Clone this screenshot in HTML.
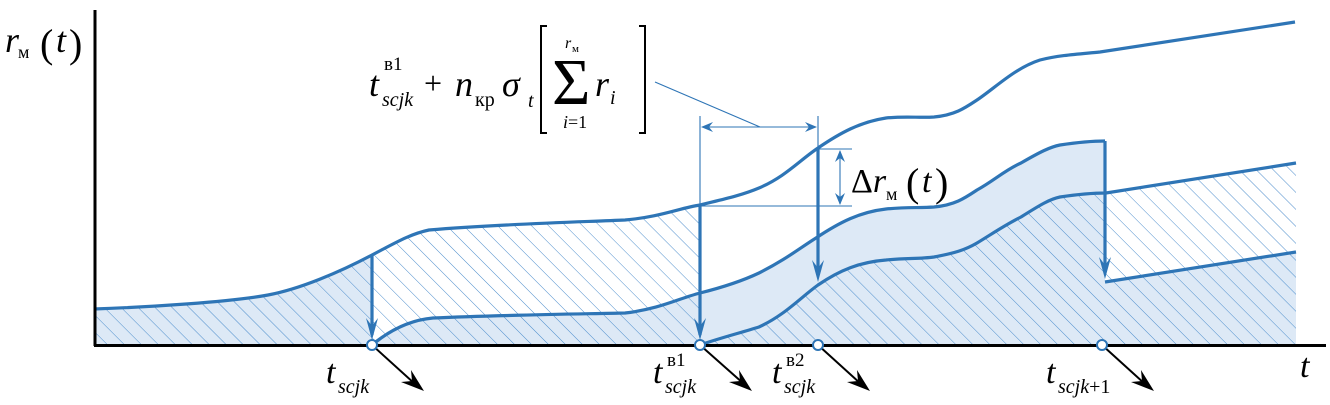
<!DOCTYPE html>
<html><head><meta charset="utf-8"><style>
html,body{margin:0;padding:0;background:#fff;}
svg{display:block;}
svg text{font-family:'Liberation Serif','DejaVu Serif','Times New Roman',serif !important;}
</style></head><body>
<svg width="1330" height="405" viewBox="0 0 1330 405" xmlns="http://www.w3.org/2000/svg">
<defs>
<pattern id="h" patternUnits="userSpaceOnUse" width="12" height="12" patternTransform="rotate(-45)">
<line x1="0" y1="0" x2="0" y2="12" stroke="#3b82c8" stroke-width="0.9"/>
</pattern>
</defs>

<path d="M94,309 C150,307 230,302 268,295 C300,289 340,272 372,255 L372,345 L94,345 Z" fill="#dde9f6"/>
<path d="M372,345 C390,330 410,320 433,318 C500,315 580,314 625,313 C660,309 680,298 700,293 C720,288 740,282 759,273 C785,260 800,248 816,238 C840,222 860,212 886,209 C905,207 920,208 934,207 C955,205 965,198 977,190 C995,180 1005,170 1021,163 C1040,152 1050,147 1060,145 C1080,142 1095,141 1105,141 L1105,282 L1296,252 L1296,345 Z" fill="#dde9f6"/>

<path d="M94,309 C150,307 230,302 268,295 C300,289 340,272 372,255 C395,243 410,234 429,230 C500,224 580,222 625,220 C660,217 680,208 700,205 L700,345 L94,345 Z" fill="url(#h)"/>
<path d="M700,345 C720,338 740,333 759,327 C785,315 800,298 818,285 C840,270 860,262 886,260 C905,258 920,259 934,257 C955,253 965,250 977,243 C995,232 1005,225 1021,217 C1040,205 1050,199 1060,197 C1080,194 1095,193 1106,193 L1296,163 L1296,345 Z" fill="url(#h)"/>

<g fill="none" stroke="#2e75b6" stroke-width="3.2">
<path d="M94,309 C150,307 230,302 268,295 C300,289 340,272 372,255 C395,243 410,234 429,230 C500,224 580,222 625,220 C660,217 680,208 700,205 C720,200 740,196 759,188 C785,177 800,160 818,148 C840,133 860,122 886,118 C905,116 920,118 934,117 C955,115 965,108 977,100 C995,88 1015,68 1040,60 C1060,55 1080,54 1100,52 L1295,22"/>
<path d="M372,345 C390,330 410,320 433,318 C500,315 580,314 625,313 C660,309 680,298 700,293 C720,288 740,282 759,273 C785,260 800,248 816,238 C840,222 860,212 886,209 C905,207 920,208 934,207 C955,205 965,198 977,190 C995,180 1005,170 1021,163 C1040,152 1050,147 1060,145 C1080,142 1095,141 1105,141"/>
<path d="M700,345 C720,338 740,333 759,327 C785,315 800,298 818,285 C840,270 860,262 886,260 C905,258 920,259 934,257 C955,253 965,250 977,243 C995,232 1005,225 1021,217 C1040,205 1050,199 1060,197 C1080,194 1095,193 1106,193 L1296,163"/>
<path d="M1105,282 L1296,252"/>
</g>
<g stroke="#2e75b6" stroke-width="3.2">
<line x1="372" y1="255" x2="372" y2="335"/>
<line x1="700" y1="205" x2="700" y2="335"/>
<line x1="818" y1="148" x2="818" y2="275"/>
<line x1="1105" y1="141" x2="1105" y2="272"/>
</g>
<g fill="#2e75b6">
<path d="M366,318 L372,340 L378,318 L372,326 Z"/>
<path d="M694,318 L700,340 L706,318 L700,326 Z"/>
<path d="M812,260 L818,282 L824,260 L818,268 Z"/>
<path d="M1099,257 L1105,279 L1111,257 L1105,265 Z"/>
</g>
<g stroke="#2e75b6" stroke-width="1.1" fill="none">
<line x1="700" y1="116" x2="700" y2="205"/>
<line x1="818" y1="116" x2="818" y2="148"/>
<line x1="702" y1="127" x2="816" y2="127"/>
<line x1="655" y1="82" x2="760" y2="127"/>
<line x1="700" y1="206" x2="852" y2="206"/>
<line x1="818" y1="149" x2="852" y2="149"/>
<line x1="840" y1="151" x2="840" y2="204"/>
</g>
<g fill="#2e75b6">
<path d="M701,127 L713,122 L709,127 L713,132 Z"/>
<path d="M817,127 L805,122 L809,127 L805,132 Z"/>
<path d="M840,150 L835,162 L840,158 L845,162 Z"/>
<path d="M840,205 L835,193 L840,197 L845,193 Z"/>
</g>

<line x1="95" y1="10" x2="95" y2="346" stroke="#000" stroke-width="3"/>
<line x1="94" y1="345.5" x2="1326" y2="345.5" stroke="#000" stroke-width="3"/>

<g stroke="#000" stroke-width="2">
<line x1="372" y1="345" x2="415" y2="384"/>
<line x1="700" y1="345" x2="744" y2="384"/>
<line x1="818" y1="345" x2="861" y2="384"/>
<line x1="1102" y1="345" x2="1145" y2="384"/>
</g>
<g fill="#000">
<path d="M424,391 L401,382 L412,381 L411,370 Z"/>
<path d="M752,391 L729,382 L740,381 L739,370 Z"/>
<path d="M870,391 L847,382 L858,381 L857,370 Z"/>
<path d="M1154,391 L1131,382 L1142,381 L1141,370 Z"/>
</g>
<g fill="#fff" stroke="#2e75b6" stroke-width="2">
<circle cx="372" cy="345" r="5"/>
<circle cx="700" cy="345" r="5"/>
<circle cx="818" cy="345" r="5"/>
<circle cx="1102" cy="345" r="5"/>
</g>

<g fill="#000" style="font-family:'Liberation Serif',serif">
<text x="5" y="52" font-size="36" font-style="italic">r</text>
<text x="18" y="58" font-size="18">м</text>
<text x="40" y="57" font-size="40">(</text>
<text x="56" y="52" font-size="36" font-style="italic">t</text>
<text x="69" y="57" font-size="40">)</text>
<text x="1300" y="377" font-size="34" font-style="italic">t</text>

<text x="326" y="383" font-size="34" font-style="italic">t</text>
<text x="338" y="393" font-size="20" font-style="italic">scjk</text>
<text x="653" y="383" font-size="34" font-style="italic">t</text>
<text x="667" y="366" font-size="19">в1</text>
<text x="665" y="393" font-size="20" font-style="italic">scjk</text>
<text x="772" y="383" font-size="34" font-style="italic">t</text>
<text x="786" y="366" font-size="19">в2</text>
<text x="784" y="393" font-size="20" font-style="italic">scjk</text>
<text x="1046" y="383" font-size="34" font-style="italic">t</text>
<text x="1058" y="393" font-size="20"><tspan font-style="italic">scjk</tspan>+1</text>

<text x="851" y="192" font-size="34">Δ<tspan font-style="italic">r</tspan></text>
<text x="886" y="200" font-size="18">м</text>
<text x="906" y="196" font-size="40">(</text>
<text x="922" y="192" font-size="34" font-style="italic">t</text>
<text x="935" y="196" font-size="40">)</text>

<text x="369" y="96" font-size="36" font-style="italic">t</text>
<text x="384" y="70" font-size="19">в1</text>
<text x="382" y="106" font-size="20" font-style="italic">scjk</text>
<text x="424" y="94" font-size="32">+</text>
<text x="455" y="96" font-size="36" font-style="italic">n</text>
<text x="475" y="106" font-size="20">кр</text>
<text x="502" y="96" font-size="36" font-style="italic">σ</text>
<text x="528" y="107" font-size="20" font-style="italic">t</text>
<text x="552" y="104" font-size="66">Σ</text>
<text x="565" y="48" font-size="16" font-style="italic">r</text>
<text x="572" y="52" font-size="11">м</text>
<text x="563" y="128" font-size="18"><tspan font-style="italic">i</tspan>=1</text>
<text x="595" y="96" font-size="36" font-style="italic">r</text>
<text x="610" y="104" font-size="20" font-style="italic">i</text>
</g>
<path d="M547,26 L541,26 L541,133 L547,133" fill="none" stroke="#000" stroke-width="2"/>
<path d="M639,26 L645,26 L645,133 L639,133" fill="none" stroke="#000" stroke-width="2"/>
</svg>
</body></html>
